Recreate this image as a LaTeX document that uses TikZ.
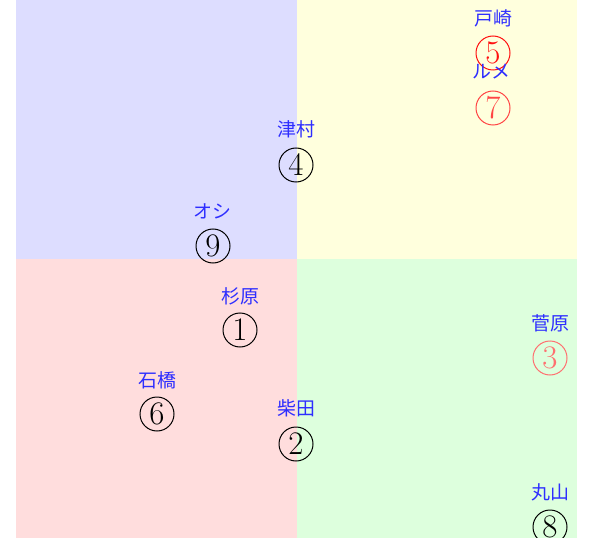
\documentclass[tikz,border=0pt]{standalone}
\usepackage{fontspec}
\newfontfamily\jpfont{Noto Sans CJK JP}
\definecolor{qblue}{HTML}{DDDDFF}
\definecolor{qyellow}{HTML}{FFFFDD}
\definecolor{qred}{HTML}{FFDDDD}
\definecolor{qgreen}{HTML}{DDFFDD}
\definecolor{lblblue}{HTML}{2E2EFF}
\definecolor{redA}{HTML}{FF1010}
\definecolor{redB}{HTML}{FF4545}
\definecolor{redC}{HTML}{FF7070}
\tikzset{
  numbox/.style={circle, draw, line width=1bp, minimum size=34bp, inner sep=0pt,
    font=\fontsize{33}{33}\selectfont},
  namelbl/.style={text=lblblue, inner sep=0pt, font=\jpfont\fontsize{19}{19}\selectfont}
}
\begin{document}
\begin{tikzpicture}[x=1bp,y=-1bp]
\useasboundingbox (0,0) rectangle (589,538);
\fill[qblue] (16,0) rectangle (297,259);
\fill[qyellow] (297,0) rectangle (577,259);
\fill[qred] (16,259) rectangle (297,538);
\fill[qgreen] (297,259) rectangle (577,538);
% nodes
\node[numbox, draw=redA, text=redA] (n5) at (493,53) {5};
\node[namelbl] (l5) at (493,18) {戸崎};
\node[numbox, draw=redB, text=redB] (n7) at (493,108) {7};
\node[namelbl] (l7) at (491,72) {ルメ};
\node[numbox] (n4) at (296,165) {4};
\node[namelbl] (l4) at (296,129) {津村};
\node[numbox] (n9) at (213,246) {9};
\node[namelbl] (l9) at (212,211) {オシ};
\node[numbox] (n1) at (240,330) {1};
\node[namelbl] (l1) at (240,296) {杉原};
\node[numbox, draw=redC, text=redC] (n3) at (550,358) {3};
\node[namelbl] (l3) at (550,323) {菅原};
\node[numbox] (n6) at (157,414) {6};
\node[namelbl] (l6) at (157,380) {石橋};
\node[numbox] (n2) at (296,444) {2};
\node[namelbl] (l2) at (296,408) {柴田};
\node[numbox] (n8) at (550,527) {8};
\node[namelbl] (l8) at (550,492) {丸山};
\end{tikzpicture}
\end{document}
